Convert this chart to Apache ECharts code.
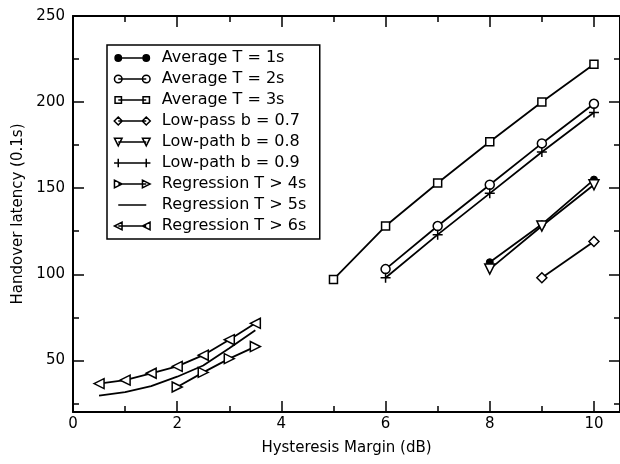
<!DOCTYPE html>
<html>
<head>
<meta charset="utf-8">
<script src="https://cdn.jsdelivr.net/npm/echarts@6/dist/echarts.min.js"></script>
<style>
  html, body { margin: 0; padding: 0; background: #fff; }
  #main { width: 620px; height: 464px; }
</style>
</head>
<body>
<div id="main"></div>
<script>
// data
const avg1X = [8, 9, 10]
const avg1Y = [107, 129, 155]
const avg2X = [6, 7, 8, 9, 10]
const avg2Y = [103, 128, 152, 176, 199]
const avg3X = [5, 6, 7, 8, 9, 10]
const avg3Y = [97, 128, 153, 177, 200, 222]
const low07X = [9, 10]
const low07Y = [98, 119]
const low08X = [8, 9, 10]
const low08Y = [103, 128, 152]
const low09X = [6, 7, 8, 9, 10]
const low09Y = [98, 123, 147, 171, 194]
const reg4X = [2, 2.5, 3, 3.5]
const reg4Y = [34.5, 43, 51, 58]
const reg5X = [0.5, 1, 1.5, 2, 2.5, 3, 3.5]
const reg5Y = [29.5, 31.5, 35, 40.5, 47, 57, 67.5]
const reg6X = [0.5, 1, 1.5, 2, 2.5, 3, 3.5]
const reg6Y = [36.5, 38.5, 42.5, 46.5, 53, 62, 71.5]

const xMajor = [0, 2, 4, 6, 8, 10]
const xMinor = [1, 3, 5, 7, 9]
const yMajor = [50, 100, 150, 200, 250]
const yMinor = [25, 75, 125, 175, 225]

const names = ['Average T = 1s', 'Average T = 2s', 'Average T = 3s', 'Low-pass b = 0.7',
  'Low-path b = 0.8', 'Low-path b = 0.9', 'Regression T > 4s', 'Regression T > 5s', 'Regression T > 6s']

const FONT = 'DejaVu Sans'
const pair = (xs, ys) => xs.map((x, i) => [x, ys[i]])

// small path makers for the legend icons (marker at both ends of a short line)
const shapes = {
  circle: (c, y, r) => `M${c - r} ${y} A${r} ${r} 0 1 1 ${c + r} ${y} A${r} ${r} 0 1 1 ${c - r} ${y} Z`,
  rect: (c, y, r) => `M${c - r} ${y - r} L${c + r} ${y - r} L${c + r} ${y + r} L${c - r} ${y + r} Z`,
  diamond: (c, y, r) => `M${c} ${y - r} L${c + r} ${y} L${c} ${y + r} L${c - r} ${y} Z`,
  down: (c, y, r) => `M${c - r} ${y - r} L${c + r} ${y - r} L${c} ${y + r} Z`,
  right: (c, y, r) => `M${c - r} ${y - r} L${c + r} ${y} L${c - r} ${y + r} Z`,
  left: (c, y, r) => `M${c + r} ${y - r} L${c - r} ${y} L${c + r} ${y + r} Z`,
  plus: (c, y, r) => `M${c - r} ${y} L${c + r} ${y} M${c} ${y - r} L${c} ${y + r}`
}
function legendIcon(kind, r) {
  let p = 'M0 0 M37 9 M4.5 4.5 L32.5 4.5 '
  if (kind) p += shapes[kind](4.5, 4.5, r) + ' ' + shapes[kind](32.5, 4.5, r)
  return 'path://' + p
}

const hollow = { color: '#fff', borderColor: '#000', borderWidth: 1.5 }
const solid = { color: '#000', borderColor: '#000', borderWidth: 1 }
const plusPath = 'path://M0 5 L10 5 M5 0 L5 10'

const defs = [
  { x: avg1X, y: avg1Y, symbol: 'circle', size: 7, style: solid, icon: ['circle', 3.2] },
  { x: avg2X, y: avg2Y, symbol: 'circle', size: 9, style: hollow, icon: ['circle', 3.8] },
  { x: avg3X, y: avg3Y, symbol: 'rect', size: 8, style: hollow, icon: ['rect', 3.2] },
  { x: low07X, y: low07Y, symbol: 'diamond', size: 10, style: hollow, icon: ['diamond', 4] },
  { x: low08X, y: low08Y, symbol: 'triangle', size: 10, rotate: 180, style: hollow, icon: ['down', 3.8] },
  { x: low09X, y: low09Y, symbol: plusPath, size: 10, style: hollow, icon: ['plus', 4.2] },
  { x: reg4X, y: reg4Y, symbol: 'triangle', size: 10, rotate: -90, style: hollow, icon: ['right', 3.8] },
  { x: reg5X, y: reg5Y, symbol: 'none', size: 0, style: solid, icon: [null, 0] },
  { x: reg6X, y: reg6Y, symbol: 'triangle', size: 10, rotate: 90, style: hollow, icon: ['left', 3.8] }
]

const series = defs.map((d, i) => ({
  name: names[i],
  type: 'line',
  data: pair(d.x, d.y),
  symbol: d.symbol,
  symbolSize: d.size,
  symbolRotate: d.rotate || 0,
  showSymbol: d.symbol !== 'none',
  itemStyle: d.style,
  lineStyle: { color: '#000', width: 1.8 },
  emphasis: { disabled: true }
}))

const legendData = defs.map((d, i) => ({
  name: names[i],
  icon: legendIcon(d.icon[0], d.icon[1]),
  itemStyle: d.style === solid ? { color: '#000', borderColor: '#000', borderWidth: 1.5 } : hollow
}))

// each side gets two axes on the same line: one for the long ticks, one for the short ones
function axisPair(kind, min, max, major, minor, pos, withLabels) {
  const base = {
    type: 'value', min: min, max: max, position: pos,
    splitLine: { show: false }
  }
  const a = Object.assign({}, base, {
    axisLine: { show: true, onZero: false, lineStyle: { color: '#000', width: 2 } },
    axisTick: { show: true, inside: true, length: 11, lineStyle: { color: '#000', width: 1.5 }, customValues: major },
    axisLabel: withLabels
      ? { show: true, customValues: major, color: '#000', fontFamily: FONT, fontSize: 15, margin: kind === 'x' ? 5 : 8 }
      : { show: false }
  })
  const b = Object.assign({}, base, {
    axisLine: { show: false, onZero: false },
    axisTick: { show: true, inside: true, length: 6, lineStyle: { color: '#000', width: 1.5 }, customValues: minor },
    axisLabel: { show: false }
  })
  return [a, b]
}

const xs = axisPair('x', 0, 10.5, xMajor, xMinor, 'bottom', true)
xs[0].name = 'Hysteresis Margin (dB)'
xs[0].nameLocation = 'middle'
xs[0].nameGap = 29
xs[0].nameTextStyle = { color: '#000', fontFamily: FONT, fontSize: 15 }
const xt = axisPair('x', 0, 10.5, xMajor, xMinor, 'top', false)

const ys = axisPair('y', 20, 250, yMajor, yMinor, 'left', true)
ys[0].name = 'Handover latency (0.1s)'
ys[0].nameLocation = 'middle'
ys[0].nameGap = 47
ys[0].nameTextStyle = { color: '#000', fontFamily: FONT, fontSize: 15 }
const yr = axisPair('y', 20, 250, yMajor, yMinor, 'right', false)

const option = {
  animation: false,
  backgroundColor: '#fff',
  // the right frame edge sits just outside the picture
  grid: { left: 73, right: -2, top: 16, bottom: 52, containLabel: false },
  xAxis: [xs[0], xs[1], xt[0], xt[1]],
  yAxis: [ys[0], ys[1], yr[0], yr[1]],
  legend: {
    orient: 'vertical',
    left: 107,
    top: 45,
    itemWidth: 37,
    itemHeight: 9,
    itemGap: 5,
    padding: [5, 6, 5, 6],
    borderColor: '#000',
    borderWidth: 1.5,
    backgroundColor: '#fff',
    selectedMode: false,
    textStyle: { color: '#000', fontFamily: FONT, fontSize: 16, lineHeight: 16, width: 152, padding: [0, 0, 0, 6] },
    data: legendData
  },
  series: series
}

const chart = echarts.init(document.getElementById('main'), null, { renderer: 'canvas' })
chart.setOption(option)
</script>
</body>
</html>
